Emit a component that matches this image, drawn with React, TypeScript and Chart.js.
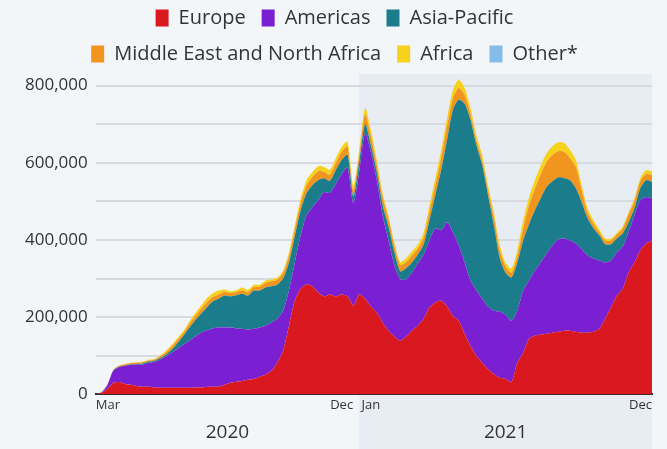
import React, { useEffect, useRef } from "react";
import { Chart, registerables } from "chart.js";

Chart.register(...registerables);

// Weekly values (thousands), Mar 2020 – Dec 2021
const europe = [0,4,14,30,32,27,25,22,20,20,18,17,17,17,17,17,17,18,18,20,20,20,25,30,33,35,38,40,46,51,61,82,113,178,243,274,285,280,264,254,259,254,259,254,230,259,248,228,212,186,165,150,139,150,165,178,196,225,238,243,228,204,191,157,126,100,82,66,53,43,40,32,82,108,144,152,155,157,160,162,165,165,162,160,160,162,170,196,225,256,274,316,342,373,391,399];
const americas = [0,1,10,31,39,47,52,55,57,62,66,73,81,91,101,112,122,132,142,146,151,153,148,143,138,135,130,130,127,127,125,114,104,91,99,138,179,205,239,270,263,291,312,333,265,317,429,400,343,278,234,185,159,148,151,161,166,174,192,182,218,216,195,185,169,169,166,161,164,172,166,159,135,161,151,169,187,208,226,239,239,234,229,216,200,190,177,146,122,112,109,104,122,130,120,109];
const asiaPacific = [0,1,1,1,1,1,1,2,3,3,3,4,5,8,16,23,34,42,49,60,70,75,83,81,86,91,88,99,96,99,94,88,83,73,68,65,57,57,52,36,31,36,36,34,18,26,23,18,21,26,36,34,21,29,26,23,26,52,86,156,213,317,377,411,416,377,346,289,221,138,109,112,125,130,146,156,166,172,166,161,156,156,143,122,96,78,65,47,42,36,34,26,18,31,44,42];
const mena = [0,0.5,1,1,2,3,3,3,3,3,3,4,6,8,8,8,10,11,13,13,11,11,9,8,8,9,9,9,10,12,13,13,15,16,18,18,21,21,23,16,16,18,21,21,16,18,26,23,18,21,18,16,16,16,18,16,18,23,26,31,36,31,31,23,16,13,13,13,21,21,16,13,16,31,49,55,62,65,68,68,68,57,55,31,16,13,8,10,10,10,13,21,18,18,16,18];
const africa = [0,0,0.3,1,1,1,1,1,2,2,2,3,4,5,5,5,6,7,8,10,10,10,7,5,5,7,6,6,5,6,5,5,6,10,10,13,13,13,13,13,13,13,13,13,13,13,16,16,13,10,10,10,8,10,10,10,13,16,18,21,21,21,21,18,16,13,13,13,13,13,10,10,16,21,21,23,23,23,23,23,23,21,18,13,10,8,8,5,5,5,5,5,8,8,10,10];
const other = [0,0,0,0,0,0,0,0,0,0,0,0,0,0,0,0,0,0,0,0,0,0,0,0,0,0,0,0,0,0,0,0,0,0,0,0,0,0,0,0,0,0,0,0,0,0,0,0,0,0,0,0,0,0,0,0,0,0,0,0,0,0,0,0,0,0,0,0,0,0,0,0,0,0,0,0,0,0,0,0,0,0,0,0,0,0,0,0,0,0,0,0,0,0,0,0];

const seriesNames = ["Europe", "Americas", "Asia-Pacific", "Middle East and North Africa", "Africa", "Other*"];
const seriesColors = ["#d9191f", "#7a1fd2", "#1b7d8c", "#f2951f", "#f6d21c", "#85bde9"];

// Y axis: grid lines and labelled ticks
const yGridValues = [0, 100000, 200000, 300000, 400000, 500000, 600000, 700000, 800000];
const yLabelValues = [0, 200000, 400000, 600000, 800000];
const yMax = 830000;

// Month tick labels at week indices
const monthTickIndex = [0, 42, 47, 95];
const monthTickText = ["Mar", "Dec", "Jan", "Dec"];

// Year bands: start week index of each year
const yearLabels = ["2020", "2021"];
const yearStartIndex = [0, 45];

const weekLabels = europe.map((_, i) => "W" + i);

const FONT = "'Open Sans', 'Noto Sans', sans-serif";

export default function App() {
  const ref = useRef<HTMLCanvasElement | null>(null);

  useEffect(() => {
    const canvas = ref.current;
    if (!canvas) return;
    const seriesData = [europe, americas, asiaPacific, mena, africa, other];

    const bgPlugin = {
      id: "bgPlugin",
      beforeDraw(chart: any) {
        const { ctx, chartArea, scales } = chart;
        ctx.save();
        ctx.fillStyle = "#f3f6f9";
        ctx.fillRect(0, 0, chart.width, chart.height);
        const x0 = scales.x.getPixelForValue(yearStartIndex[1]);
        ctx.fillStyle = "#e8edf3";
        ctx.fillRect(x0, chartArea.top, chartArea.right - x0, chart.height - chartArea.top);
        ctx.restore();
      },
      afterDraw(chart: any) {
        const { ctx, scales } = chart;
        const last = weekLabels.length - 1;
        ctx.save();
        ctx.fillStyle = "#333333";
        ctx.font = "19px " + FONT;
        ctx.textAlign = "center";
        ctx.textBaseline = "middle";
        for (let k = 0; k < yearLabels.length; k++) {
          const a = scales.x.getPixelForValue(yearStartIndex[k]);
          const b = scales.x.getPixelForValue(k + 1 < yearStartIndex.length ? yearStartIndex[k + 1] : last);
          ctx.fillText(yearLabels[k], (a + b) / 2, 433);
        }
        ctx.restore();
      },
    };

    const chart = new Chart(canvas, {
      type: "line",
      data: {
        labels: weekLabels,
        datasets: seriesNames.map((name, i) => ({
          label: name,
          data: seriesData[i].map((v) => v * 1000),
          backgroundColor: seriesColors[i],
          borderColor: seriesColors[i],
          borderWidth: 0,
          pointRadius: 0,
          tension: 0.25,
          fill: i === 0 ? "origin" : "-1",
        })),
      },
      options: {
        responsive: false,
        animation: false,
        layout: { padding: { left: 17, right: 15, top: -8, bottom: 33 } },
        plugins: {
          legend: {
            position: "top",
            labels: {
              font: { family: FONT, size: 20 },
              color: "#333333",
              boxWidth: 13,
              boxHeight: 17,
              padding: 16,
            },
          },
          tooltip: { enabled: false },
        },
        scales: {
          x: {
            type: "category",
            grid: { display: false, drawTicks: false },
            border: { display: true, color: "#2a2a2a", width: 2 },
            ticks: {
              autoSkip: false,
              maxRotation: 0,
              align: "inner",
              padding: 3,
              color: "#333333",
              font: { family: FONT, size: 13 },
              callback: (_v: any, idx: number) => {
                const k = monthTickIndex.indexOf(idx);
                return k >= 0 ? monthTickText[k] : "";
              },
            },
          },
          y: {
            stacked: true,
            min: 0,
            max: yMax,
            afterBuildTicks: (scale: any) => {
              scale.ticks = yGridValues.map((v) => ({ value: v }));
            },
            grid: { color: "#d7dbe0", lineWidth: 2, drawTicks: false },
            border: { display: false },
            ticks: {
              autoSkip: false,
              padding: 8,
              color: "#333333",
              font: { family: FONT, size: 17 },
              callback: (_v: any, idx: number, ticks: any[]) => {
                const val = ticks[idx].value;
                return yLabelValues.indexOf(val) >= 0 ? val.toLocaleString("en-US") : "";
              },
            },
          },
        },
      },
      plugins: [bgPlugin],
    });
    return () => chart.destroy();
  }, []);

  return (
    <div style={{ position: "absolute", left: 0, top: 0, width: 667, height: 449 }}>
      <canvas ref={ref} width={667} height={449} style={{ display: "block" }} />
    </div>
  );
}
